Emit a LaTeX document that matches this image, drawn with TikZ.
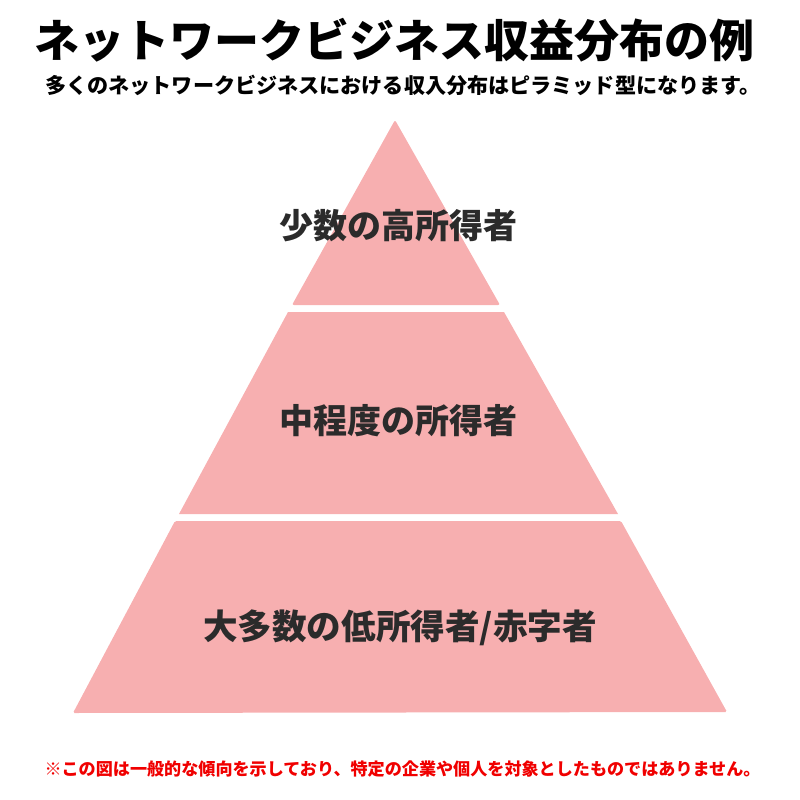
\documentclass[tikz,border=0pt]{standalone}
\usepackage{fontspec}
\newfontfamily\cjk{Noto Sans CJK JP Black}
\definecolor{tierpink}{HTML}{F7AFB0}
\definecolor{tiertext}{HTML}{2B2B2B}
\definecolor{notered}{HTML}{F00000}
\tikzset{
tier/.style={fill=tierpink},
tierlabel/.style={font=\cjk\fontsize{34}{34}\selectfont,text=tiertext,inner sep=0pt},
}
\begin{document}
\begin{tikzpicture}[x=1pt,y=-1pt]
\useasboundingbox (0,0) rectangle (800,800);
\node[font=\cjk\fontsize{45}{45}\selectfont,inner sep=0pt] (title) at (394,40) {ネットワークビジネス収益分布の例};
\node[font=\cjk\fontsize{21.1}{22}\selectfont,inner sep=0pt] (subtitle) at (403,85) {多くのネットワークビジネスにおける収入分布はピラミッド型になります。};
% pyramid
\fill[tier,rounded corners=2pt] (395,120) -- (500,305) -- (292,305) -- cycle;
\fill[tier] (288,312) -- (504,312) -- (618,514) -- (179,514) -- cycle;
\fill[tier,rounded corners=1.5pt] (175,521) -- (621,521) -- (727,712) -- (73,713) -- cycle;
\node[tierlabel] (top) at (398,226) {少数の高所得者};
\node[tierlabel] (middle) at (398,421) {中程度の所得者};
\node[tierlabel,font=\cjk\fontsize{34.6}{35}\selectfont] (bottom) at (400,628) {大多数の低所得者/赤字者};
\node[font=\cjk\fontsize{17.1}{18}\selectfont,text=notered,inner sep=0pt] (note) at (402.5,769) {※この図は一般的な傾向を示しており、特定の企業や個人を対象としたものではありません。};
\end{tikzpicture}
\end{document}
